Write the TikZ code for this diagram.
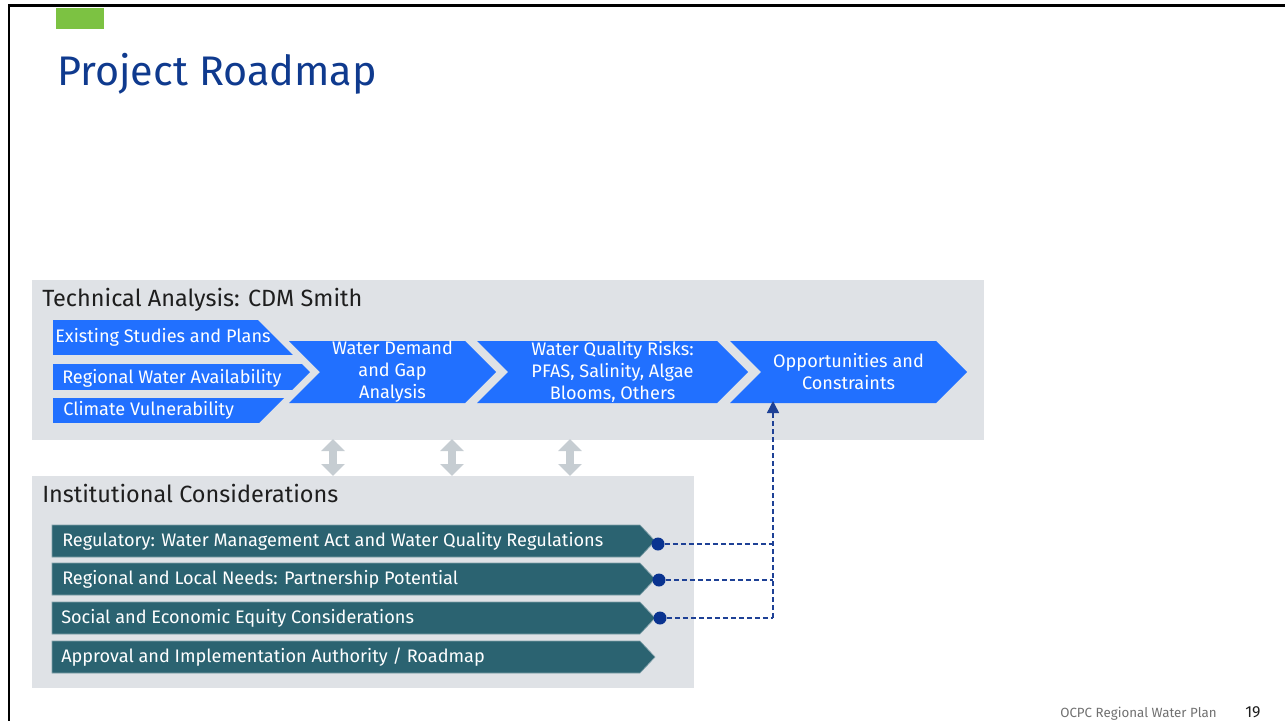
\documentclass[tikz,border=0pt]{standalone}
\usepackage{fontspec}
\setmainfont{Fira Sans}
\usepackage{xcolor}
\usepackage{tikz}
\usetikzlibrary{arrows.meta}
\definecolor{slidegray}{HTML}{DFE2E6}
\definecolor{chevblue}{HTML}{2170FF}
\definecolor{barteal}{HTML}{2B6371}
\definecolor{tealedge}{HTML}{7F9FA8}
\definecolor{dotnavy}{HTML}{0A3390}
\definecolor{dashnavy}{HTML}{1E4196}
\definecolor{titleblue}{HTML}{0F3A8E}
\definecolor{arrowgray}{HTML}{C6CDD2}
\definecolor{tabgreen}{HTML}{7CC242}
\definecolor{headblack}{HTML}{1E1E1E}
\definecolor{footgray}{HTML}{707070}
\tikzset{ bar_text/.style = {anchor=west, inner sep=0pt, text=white, font=\fontsize{13.6}{16.5}\selectfont} }
\tikzset{ chev_text/.style = {inner sep=0pt, align=center, text=white, font=\fontsize{13.6}{16.5}\selectfont} }
\tikzset{ head_text/.style = {anchor=base west, inner sep=0pt, text=headblack, font=\fontsize{17.6}{20}\selectfont} }
\tikzset{ teal_bar/.style = {fill=barteal, draw=tealedge, line width=0.5pt} }
\tikzset{ link_dot/.style = {circle, fill=dotnavy, inner sep=0pt, minimum size=9.75pt} }
\tikzset{ link_line/.style = {draw=dashnavy, line width=1.1pt, dash pattern=on 3.75pt off 2.25pt} }
\tikzset{ both_way/.style = {draw=arrowgray, line width=6pt, {Triangle[width=17.25pt,length=9pt]}-{Triangle[width=17.25pt,length=9pt]}} }

\begin{document}
\begin{tikzpicture}[x=0.75pt, y=-0.75pt]
    \useasboundingbox (0,0) rectangle (1285,721);
    \draw[line width=1.8pt] (9,721) -- (9,5.5) -- (1285,5.5);
    \fill[tabgreen] (56,8) rectangle (104,29);
    \node[anchor=base west, inner sep=0pt, text=titleblue, font=\fontsize{31}{36}\selectfont] (title) at (57,85) {Project Roadmap};

    \fill[slidegray] (32,280) rectangle (984,440);
    \fill[slidegray] (32,476) rectangle (694,688);
    \node[head_text] (tech) at (42,306) {Technical Analysis: CDM Smith};
    \node[head_text] (inst) at (42,502) {Institutional Considerations};

    \begin{scope}
    \clip (53,320) -- (258,320) -- (310,372) -- (258,424) -- (53,424) -- cycle;
    \fill[chevblue] (53,320) rectangle (320,355);
    \fill[chevblue] (53,364) rectangle (320,390);
    \fill[chevblue] (53,398) rectangle (320,423);
    \end{scope}
    \node[bar_text] (studies) at (55,337) {Existing Studies and Plans};
    \node[bar_text] (avail) at (62,378) {Regional Water Availability};
    \node[bar_text] (climate) at (63,410) {Climate Vulnerability};

    \fill[chevblue] (289,341) -- (465,341) -- (496,372) -- (465,403) -- (289,403) -- (320,372) -- cycle;
    \fill[chevblue] (477,341) -- (717,341) -- (748,372) -- (717,403) -- (477,403) -- (508,372) -- cycle;
    \fill[chevblue] (730,341) -- (936,341) -- (967,372) -- (936,403) -- (730,403) -- (761,372) -- cycle;
    \node[chev_text] (demand) at (392.5,372) {Water Demand\\and Gap\\Analysis};
    \node[chev_text] (quality) at (612.5,372) {Water Quality Risks:\\PFAS, Salinity, Algae\\Blooms, Others};
    \node[chev_text] (opps) at (848.5,372) {Opportunities and\\Constraints};

    \coordinate (up1) at (333,439);
    \coordinate (dn1) at (333,476);
    \coordinate (up2) at (452,439);
    \coordinate (dn2) at (452,476);
    \coordinate (up3) at (570,439);
    \coordinate (dn3) at (570,476);
    \draw[both_way] (up1) -- (dn1);
    \draw[both_way] (up2) -- (dn2);
    \draw[both_way] (up3) -- (dn3);

    \path[teal_bar] (52,525) -- (640,525) -- (655,541) -- (640,557) -- (52,557) -- cycle;
    \path[teal_bar] (52,563) -- (640,563) -- (655,579) -- (640,595) -- (52,595) -- cycle;
    \path[teal_bar] (52,602) -- (640,602) -- (655,618) -- (640,634) -- (52,634) -- cycle;
    \path[teal_bar] (52,641) -- (640,641) -- (655,657) -- (640,673) -- (52,673) -- cycle;
    \node[bar_text] (regul) at (62,541) {Regulatory: Water Management Act and Water Quality Regulations};
    \node[bar_text] (needs) at (62,579) {Regional and Local Needs: Partnership Potential};
    \node[bar_text] (equity) at (61,618) {Social and Economic Equity Considerations};
    \node[bar_text] (approval) at (61,657) {Approval and Implementation Authority / Roadmap};

    \node[link_dot] (d1) at (658,544) {};
    \node[link_dot] (d2) at (659,580) {};
    \node[link_dot] (d3) at (660,618) {};
    \coordinate (j1) at (773,544);
    \coordinate (j2) at (773,580);
    \coordinate (j3) at (773,618);
    \coordinate (goal) at (773,401);
    \draw[link_line] (d1) -- (j1);
    \draw[link_line] (d2) -- (j2);
    \draw[link_line] (d3) -- (j3);
    \draw[link_line, -{Triangle[width=9pt,length=9pt]}] (j3) -- (goal);

    \node[anchor=base west, inner sep=0pt, text=footgray, font=\fontsize{10}{12}\selectfont] (foot) at (1060,717) {OCPC Regional Water Plan};
    \node[anchor=base west, inner sep=0pt, text=headblack, font=\fontsize{12}{14}\selectfont] (page) at (1245,717) {19};
\end{tikzpicture}
\end{document}
